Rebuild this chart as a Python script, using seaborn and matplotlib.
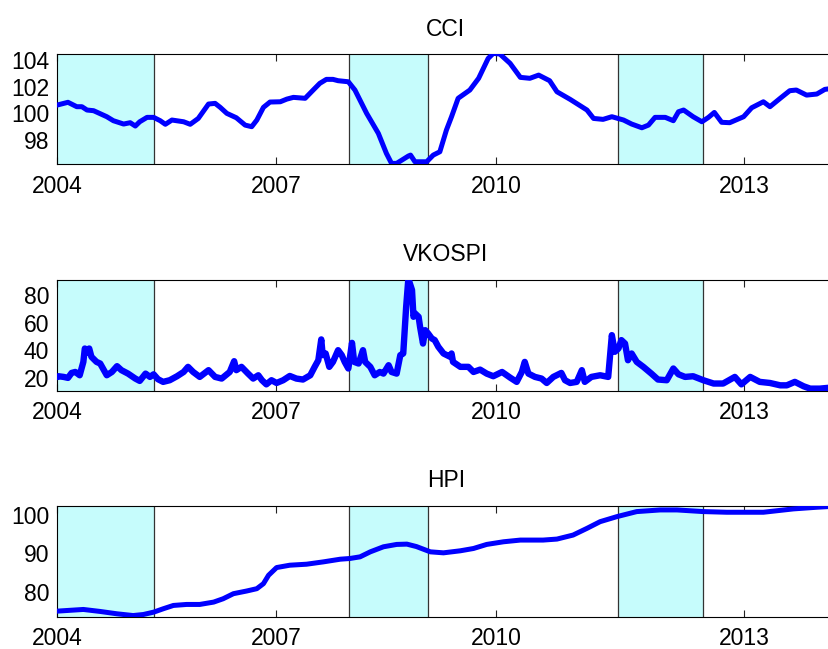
import matplotlib
matplotlib.use("Agg")
import matplotlib.pyplot as plt
import seaborn as sns
import pandas as pd

# ---------------- data ----------------
cci_t = [2004.00, 2004.15, 2004.27, 2004.34, 2004.41, 2004.50, 2004.68, 2004.77, 2004.91, 2005.00,
         2005.07, 2005.13, 2005.23, 2005.32, 2005.41, 2005.48, 2005.57, 2005.73, 2005.82, 2005.93,
         2006.07, 2006.16, 2006.23, 2006.32, 2006.45, 2006.57, 2006.66, 2006.73, 2006.82, 2006.91,
         2007.05, 2007.14, 2007.23, 2007.39, 2007.50, 2007.59, 2007.68, 2007.77, 2007.84, 2007.98,
         2008.07, 2008.23, 2008.39, 2008.50, 2008.57, 2008.64, 2008.80, 2008.83, 2008.89, 2009.05,
         2009.14, 2009.23, 2009.32, 2009.39, 2009.48, 2009.64, 2009.76, 2009.89, 2009.96, 2010.05,
         2010.19, 2010.33, 2010.46, 2010.58, 2010.73, 2010.83, 2011.01, 2011.24, 2011.33, 2011.46,
         2011.58, 2011.74, 2011.85, 2011.99, 2012.08, 2012.17, 2012.31, 2012.42, 2012.49, 2012.56,
         2012.69, 2012.81, 2012.90, 2012.98, 2013.08, 2013.19, 2013.38, 2013.49, 2013.65, 2013.74,
         2013.88, 2014.01, 2014.10, 2014.24, 2014.38, 2014.49, 2014.56]
cci_v = [100.62, 100.83, 100.50, 100.50, 100.25, 100.20, 99.75, 99.45, 99.20, 99.30,
         99.05, 99.37, 99.70, 99.70, 99.45, 99.18, 99.50, 99.37, 99.18, 99.62,
         100.70, 100.75, 100.45, 100.00, 99.67, 99.12, 99.00, 99.50, 100.45, 100.85,
         100.87, 101.07, 101.20, 101.13, 101.75, 102.25, 102.55, 102.55, 102.45, 102.37,
         101.75, 100.00, 98.50, 97.00, 96.25, 96.25, 96.80, 96.87, 96.37, 96.37,
         96.87, 97.12, 98.75, 99.75, 101.13, 101.75, 102.63, 104.12, 104.50, 104.45,
         103.75, 102.70, 102.63, 102.87, 102.45, 101.62, 101.05, 100.25, 99.62, 99.55,
         99.75, 99.50, 99.20, 98.92, 99.12, 99.70, 99.70, 99.45, 100.12, 100.25,
         99.75, 99.37, 99.70, 100.07, 99.33, 99.30, 99.75, 100.42, 100.87, 100.50,
         101.13, 101.70, 101.75, 101.37, 101.45, 101.80, 101.85]

vk_t = [2004.00, 2004.02, 2004.09, 2004.15, 2004.20, 2004.25, 2004.31, 2004.36, 2004.38, 2004.41,
        2004.44, 2004.47, 2004.54, 2004.59, 2004.68, 2004.75, 2004.82, 2004.88, 2004.97, 2005.07,
        2005.13, 2005.21, 2005.27, 2005.32, 2005.38, 2005.45, 2005.54, 2005.64, 2005.73, 2005.79,
        2005.86, 2005.95, 2006.07, 2006.16, 2006.25, 2006.36, 2006.42, 2006.45, 2006.52, 2006.61,
        2006.68, 2006.75, 2006.80, 2006.86, 2006.93, 2007.00, 2007.09, 2007.18, 2007.27, 2007.36,
        2007.46, 2007.52, 2007.57, 2007.61, 2007.63, 2007.67, 2007.72, 2007.77, 2007.84, 2007.89,
        2007.93, 2007.98, 2008.03, 2008.06, 2008.12, 2008.18, 2008.21, 2008.28, 2008.34, 2008.41,
        2008.46, 2008.53, 2008.57, 2008.64, 2008.69, 2008.73, 2008.77, 2008.80, 2008.82, 2008.85,
        2008.87, 2008.89, 2008.94, 2008.96, 2009.00, 2009.03, 2009.07, 2009.12, 2009.16, 2009.21,
        2009.28, 2009.37, 2009.39, 2009.41, 2009.51, 2009.62, 2009.69, 2009.78, 2009.87, 2009.96,
        2010.08, 2010.19, 2010.28, 2010.35, 2010.39, 2010.44, 2010.53, 2010.62, 2010.69, 2010.78,
        2010.89, 2010.94, 2011.01, 2011.10, 2011.17, 2011.21, 2011.30, 2011.42, 2011.53, 2011.58,
        2011.62, 2011.67, 2011.71, 2011.76, 2011.80, 2011.85, 2011.92, 2012.01, 2012.12, 2012.21,
        2012.33, 2012.42, 2012.49, 2012.58, 2012.69, 2012.83, 2012.97, 2013.10, 2013.26, 2013.35,
        2013.47, 2013.60, 2013.74, 2013.88, 2013.97, 2014.08, 2014.20, 2014.29, 2014.42, 2014.56]
vk_v = [20.5, 21.1, 20.6, 19.9, 23.5, 24.2, 21.8, 31.5, 41.2, 38.1,
        41.2, 35.2, 31.5, 30.3, 21.8, 24.2, 28.4, 25.5, 23.0, 19.4,
        17.7, 23.0, 20.6, 22.5, 18.9, 17.0, 18.2, 21.1, 24.2, 27.9,
        24.2, 20.6, 25.5, 20.6, 19.4, 24.2, 32.0, 25.5, 27.9, 23.0,
        19.4, 21.8, 18.2, 15.2, 18.2, 16.2, 18.2, 21.3, 19.4, 18.7,
        21.8, 27.9, 32.7, 47.8, 36.4, 37.6, 27.9, 31.5, 40.0, 36.4,
        31.5, 26.7, 45.3, 31.5, 30.3, 40.0, 31.5, 27.9, 21.8, 24.2,
        23.0, 29.1, 24.2, 23.0, 36.4, 37.6, 71.5, 92.0, 88.5, 83.6,
        64.2, 66.7, 64.2, 56.9, 44.8, 54.5, 52.1, 48.5, 47.3, 42.4,
        37.6, 35.2, 37.6, 31.5, 27.9, 27.9, 24.2, 25.9, 23.0, 21.1,
        24.2, 20.1, 17.0, 24.2, 31.5, 23.0, 20.6, 19.4, 16.2, 20.6,
        23.5, 18.2, 16.2, 17.0, 25.5, 17.0, 20.6, 21.8, 20.6, 50.9,
        38.8, 41.2, 47.3, 44.8, 32.7, 37.6, 31.5, 27.9, 23.0, 18.7,
        18.2, 26.7, 22.5, 20.6, 21.1, 18.2, 15.8, 15.8, 20.6, 15.2,
        20.6, 17.0, 16.2, 14.5, 14.5, 17.0, 13.8, 12.1, 12.1, 12.8]

hpi_t = [2004.00, 2004.13, 2004.36, 2004.59, 2004.82, 2005.04, 2005.18, 2005.32, 2005.45, 2005.59,
         2005.77, 2005.95, 2006.14, 2006.27, 2006.41, 2006.59, 2006.73, 2006.82, 2006.89, 2007.00,
         2007.18, 2007.41, 2007.64, 2007.87, 2008.00, 2008.14, 2008.28, 2008.46, 2008.64, 2008.78,
         2008.91, 2009.10, 2009.28, 2009.51, 2009.69, 2009.87, 2010.10, 2010.33, 2010.64, 2010.83,
         2011.05, 2011.24, 2011.42, 2011.65, 2011.92, 2012.24, 2012.47, 2012.83, 2013.15, 2013.65,
         2014.06, 2014.38, 2014.56]
hpi_v = [75.04, 75.20, 75.48, 74.96, 74.35, 73.90, 74.17, 74.78, 75.65, 76.52,
         76.78, 76.78, 77.39, 78.26, 79.57, 80.26, 80.87, 82.17, 84.35, 86.35,
         86.96, 87.22, 87.83, 88.52, 88.70, 89.13, 90.43, 91.74, 92.35, 92.43,
         91.80, 90.43, 90.17, 90.70, 91.30, 92.35, 93.04, 93.48, 93.48, 93.74,
         94.78, 96.52, 98.26, 99.57, 100.87, 101.30, 101.30, 100.87, 100.70, 100.70,
         101.57, 102.00, 102.20]

titles = ["CCI", "VKOSPI", "HPI"]
recession_start = [2003.9, 2007.99, 2011.66]
recession_end = [2005.32, 2009.07, 2012.83]
xtick_pos = [2004.0, 2006.99, 2010.0, 2013.39]
xtick_labels = ["2004", "2007", "2010", "2013"]
ytick_sets = [[98, 100, 102, 104], [20, 40, 60, 80], [80, 90, 100]]
ylims = [(96.18, 104.43), (10.6, 90.9), (73.6, 102.4)]
xlim = (2004.0, 2014.62)

# ---------------- plotting ----------------
sns.set_style("white")
plt.rcParams["font.family"] = ["Liberation Sans", "DejaVu Sans"]
plt.rcParams["text.color"] = "black"
plt.rcParams["xtick.color"] = "black"
plt.rcParams["ytick.color"] = "black"
plt.rcParams["axes.labelcolor"] = "black"

fig = plt.figure(figsize=(8.29, 6.49), dpi=100)
W, H = 829.0, 649.0
left = 57.0 / W
width = (xlim[1] - xlim[0]) * 73.2 / W
axes_px = [(54.3, 164.3), (280.0, 390.7), (505.7, 616.7)]

series = [(cci_t, cci_v), (vk_t, vk_v), (hpi_t, hpi_v)]
lws = [3.6, 4.6, 3.6]

for i, (top, bot) in enumerate(axes_px):
    ax = fig.add_axes([left, 1 - bot / H, width, (bot - top) / H])
    t, v = series[i]
    df = pd.DataFrame({"t": t, "v": v})
    for s, e in zip(recession_start, recession_end):
        ax.axvspan(s, e, facecolor="#c6fcfc", edgecolor="none", zorder=0.5)
        ax.axvline(s, color="#333333", lw=0.9, zorder=0.6)
        ax.axvline(e, color="#333333", lw=0.9, zorder=0.6)
    sns.lineplot(data=df, x="t", y="v", ax=ax, color="#0000ff", linewidth=lws[i],
                 estimator=None, sort=False, zorder=3)
    ax.set_xlim(*xlim)
    ax.set_ylim(*ylims[i])
    ax.set_xticks(xtick_pos)
    ax.set_xticklabels(xtick_labels)
    ax.set_yticks(ytick_sets[i])
    ax.set_yticklabels([str(y) for y in ytick_sets[i]])
    ax.set_xlabel("")
    ax.set_ylabel("")
    ax.set_title(titles[i], fontsize=16.5, pad=13.5, color="black")
    ax.tick_params(axis="x", direction="in", length=5, width=0.8, top=True, bottom=True,
                   labelsize=16.5, pad=7.5, colors="#222222", labelcolor="black")
    ax.tick_params(axis="y", length=0, labelsize=16.5, pad=5.5, labelcolor="black")
    for sp in ax.spines.values():
        sp.set_visible(True)
        sp.set_color("black")
        sp.set_linewidth(0.8)

fig.savefig("out.png", dpi=100)
